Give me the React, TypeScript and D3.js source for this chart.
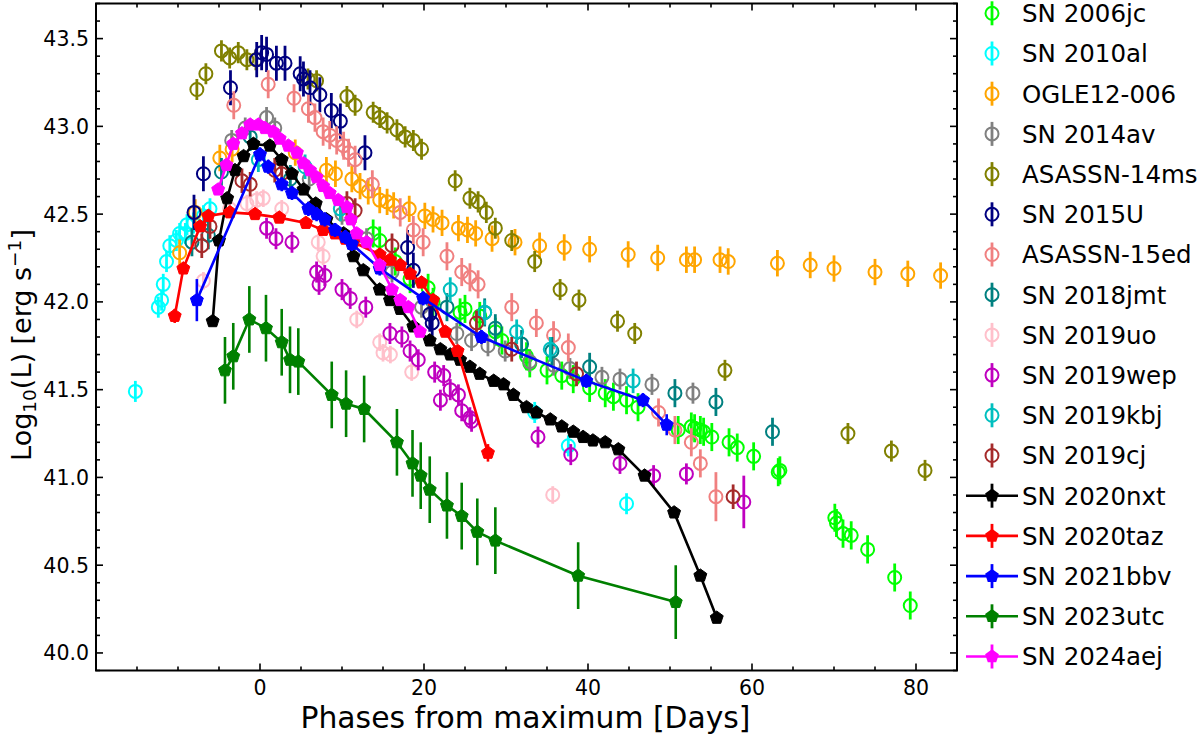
import * as d3 from 'd3';

// LAYOUT
const W = 1200;
const H = 737;
const PLOT = { LEFT: 96, RIGHT: 957, TOP: 3.5, BOTTOM: 670.5 };
const X_DOMAIN: [number, number] = [-20, 85];
const Y_DOMAIN: [number, number] = [39.9, 43.7];
const X_MAJOR = [0, 20, 40, 60, 80];
const Y_MAJOR = [40.0, 40.5, 41.0, 41.5, 42.0, 42.5, 43.0, 43.5];
const FONT = '"DejaVu Sans", sans-serif';

type Pt = [number, number, number?];

// DATA  [phase (days), log10 L, optional error]
const SN2006JC: Pt[] = [
  [13.8, 42.39], [14.6, 42.35], [16.5, 42.23], [18.3, 42.13], [20.5, 42.08], [21.1, 42.0],
  [24.4, 41.94], [25.0, 41.96], [26.8, 41.92], [28.7, 41.83], [29.5, 41.78], [32.5, 41.69],
  [32.9, 41.65], [35.0, 41.61], [36.8, 41.58], [38.2, 41.56], [40.2, 41.51], [42.1, 41.48],
  [43.1, 41.46], [44.7, 41.44], [46.1, 41.4], [51.0, 41.27], [52.6, 41.29], [53.0, 41.28],
  [53.7, 41.27], [54.1, 41.26], [55.1, 41.23], [57.2, 41.2], [58.2, 41.17], [60.2, 41.12],
  [63.2, 41.03], [63.4, 41.04], [70.1, 40.77], [70.3, 40.74], [71.1, 40.68], [72.1, 40.67],
  [74.1, 40.59], [77.4, 40.43], [79.3, 40.27],
];
const SN2010AL: Pt[] = [
  [-15.2, 41.49], [-12.4, 41.97], [-12.0, 42.01], [-11.8, 42.1], [-11.4, 42.23], [-11.0, 42.32],
  [-10.2, 42.35], [-9.8, 42.39], [-9.1, 42.39], [-8.9, 42.44], [-8.1, 42.45], [-6.9, 42.49],
  [-6.1, 42.53], [33.5, 41.37], [37.6, 41.18], [44.7, 40.85],
];
const OGLE12_006: Pt[] = [
  [-9.8, 42.28], [-7.9, 42.51], [-4.9, 42.82], [-3.4, 42.87], [4.3, 42.85], [8.1, 42.75],
  [9.2, 42.73], [11.2, 42.7], [12.2, 42.66], [13.2, 42.63], [14.6, 42.58], [15.5, 42.57],
  [16.3, 42.55], [18.2, 42.53], [20.1, 42.49], [21.1, 42.47], [22.2, 42.45], [24.2, 42.42],
  [25.3, 42.41], [26.3, 42.39], [28.3, 42.36], [31.1, 42.34], [34.1, 42.32], [37.1, 42.31],
  [40.2, 42.3], [44.9, 42.27], [48.5, 42.25], [52.0, 42.24], [53.0, 42.24], [56.1, 42.24],
  [57.1, 42.23], [63.1, 42.22], [67.1, 42.21], [70.0, 42.19], [75.0, 42.17], [79.0, 42.16],
  [83.0, 42.15],
];
const SN2014AV: Pt[] = [
  [-3.45, 42.92], [-1.8, 42.99], [0.8, 43.05], [1.8, 42.99], [6.0, 42.7], [10.0, 42.5],
  [13.0, 42.36], [16.1, 42.17], [19.7, 41.97], [24.0, 41.82], [25.8, 41.78], [27.8, 41.75],
  [29.9, 41.72], [32.9, 41.66], [35.8, 41.64], [37.8, 41.62], [41.7, 41.57], [43.9, 41.56],
  [47.8, 41.53], [52.8, 41.48],
];
const ASASSN14MS: Pt[] = [
  [-7.7, 43.21], [-6.6, 43.3], [-4.7, 43.43], [-3.7, 43.39], [-2.65, 43.42], [-1.6, 43.38],
  [-0.5, 43.38], [5.85, 43.27], [6.9, 43.26], [10.6, 43.17], [11.6, 43.12], [13.8, 43.08],
  [14.6, 43.05], [15.5, 43.02], [16.7, 42.98], [17.7, 42.94], [18.7, 42.92], [19.7, 42.87],
  [23.8, 42.69], [25.6, 42.59], [26.6, 42.57], [27.6, 42.51], [28.7, 42.42], [30.7, 42.35],
  [33.5, 42.23], [36.6, 42.07], [38.9, 42.01], [43.6, 41.89], [45.7, 41.82], [56.7, 41.61],
  [71.7, 41.25], [77.0, 41.15], [81.1, 41.04],
];
const SN2015U: Pt[] = [
  [-8.05, 42.51], [-6.9, 42.73], [-3.6, 43.22], [-0.4, 43.38], [0.2, 43.42], [0.8, 43.41],
  [2.0, 43.36], [3.05, 43.36], [4.9, 43.3], [5.3, 43.27], [6.1, 43.22], [7.3, 43.18],
  [8.7, 43.09], [9.8, 43.03], [12.8, 42.85], [18.0, 42.31], [18.7, 42.18], [20.7, 41.93],
  [21.0, 41.88],
];
const ASASSN15ED: Pt[] = [
  [-3.2, 43.12], [1.0, 43.24], [4.15, 43.16], [5.9, 43.1], [6.7, 43.05], [7.7, 42.97],
  [8.5, 42.95], [9.35, 42.92], [10.2, 42.89], [10.8, 42.85], [11.6, 42.81], [13.7, 42.67],
  [17.1, 42.51], [18.7, 42.41], [19.9, 42.34], [22.8, 42.26], [24.6, 42.17], [25.6, 42.14],
  [26.6, 42.1], [30.7, 41.97], [33.7, 41.88], [35.8, 41.81], [37.6, 41.74], [48.6, 41.37],
  [50.6, 41.27], [52.6, 41.2], [53.7, 41.08], [55.6, 40.89, 0.14],
];
const SN2018JMT: Pt[] = [
  [-8.3, 42.34], [-6.3, 42.38], [-4.7, 42.74], [-1.2, 42.94], [3.7, 42.7], [22.8, 41.97],
  [27.4, 41.94], [28.7, 41.85], [31.9, 41.76], [35.6, 41.72], [40.2, 41.63], [50.6, 41.48],
  [55.6, 41.43], [62.5, 41.26],
];
const SN2019UO: Pt[] = [
  [-6.9, 42.12], [-3.7, 42.53], [-1.6, 42.56], [-0.4, 42.58], [0.4, 42.59], [2.65, 42.53],
  [7.1, 42.34], [7.7, 42.26], [11.8, 41.9], [14.6, 41.77], [15.0, 41.71], [15.9, 41.7],
  [18.5, 41.6], [35.7, 40.9],
];
const SN2019WEP: Pt[] = [
  [0.8, 42.42], [1.95, 42.36], [3.9, 42.34], [6.9, 42.17], [7.9, 42.15], [7.2, 42.1],
  [10.0, 42.07], [11.0, 42.02], [12.9, 41.97], [15.85, 41.82], [17.3, 41.8], [18.3, 41.72],
  [19.3, 41.67], [21.3, 41.6], [22.4, 41.58], [22.0, 41.44], [23.2, 41.5], [24.2, 41.47],
  [24.6, 41.38], [25.6, 41.34], [25.8, 41.32], [33.9, 41.23], [37.9, 41.13], [43.9, 41.08],
  [48.0, 41.01], [52.0, 41.02], [59.0, 40.86, 0.15],
];
const SN2019KBJ: Pt[] = [
  [-0.2, 42.81], [5.5, 42.77], [9.8, 42.53], [23.2, 42.07], [27.4, 41.94], [31.3, 41.83],
  [35.4, 41.73], [45.5, 41.55],
];
const SN2019CJ: Pt[] = [
  [-7.1, 42.32], [-6.1, 42.43], [-2.2, 42.69], [-1.2, 42.67], [1.8, 42.75], [2.65, 42.73],
  [10.6, 42.56], [11.6, 42.52], [16.1, 42.32], [26.4, 41.88], [30.7, 41.73], [38.6, 41.59],
  [57.7, 40.89],
];
const SN2020NXT: Pt[] = [
  [-5.77, 41.89], [-5.0, 42.35], [-4.0, 42.59], [-3.05, 42.75], [-2.0, 42.83], [-0.8, 42.9],
  [1.2, 42.89], [2.65, 42.81], [3.9, 42.73], [5.3, 42.64], [6.8, 42.56], [8.1, 42.47],
  [10.2, 42.39], [11.4, 42.26], [12.6, 42.18], [14.6, 42.07], [15.85, 42.01], [17.1, 41.96],
  [18.7, 41.86], [20.7, 41.78], [22.0, 41.73], [23.2, 41.7], [24.4, 41.67], [25.6, 41.63],
  [26.8, 41.59], [28.5, 41.55], [29.7, 41.53], [30.9, 41.47], [32.5, 41.4], [33.7, 41.37],
  [35.4, 41.33], [36.8, 41.29], [38.2, 41.26], [39.4, 41.23], [40.6, 41.21], [42.1, 41.2],
  [43.7, 41.16], [46.9, 41.01], [50.5, 40.8], [53.7, 40.44], [55.7, 40.2],
];
const SN2020TAZ: Pt[] = [
  [-10.4, 41.92, 0.04], [-9.35, 42.19], [-7.3, 42.43], [-6.3, 42.49], [-3.66, 42.51],
  [-0.6, 42.5], [2.35, 42.48], [5.6, 42.45], [7.7, 42.41], [9.15, 42.39], [10.4, 42.36],
  [11.4, 42.34], [14.6, 42.27], [15.85, 42.24], [17.1, 42.21], [18.3, 42.16], [19.7, 42.11],
  [21.1, 42.01], [22.6, 41.83], [24.1, 41.72], [27.8, 41.14, 0.05],
];
const SN2021BBV: Pt[] = [
  [-7.7, 42.01, 0.12], [0.0, 42.84], [1.0, 42.77], [2.65, 42.67], [3.9, 42.62], [5.9, 42.53],
  [6.9, 42.5], [7.9, 42.47], [9.15, 42.41], [10.4, 42.37], [11.2, 42.33], [14.6, 42.19],
  [19.9, 42.02], [27.0, 41.8], [39.8, 41.55], [46.7, 41.44], [49.6, 41.3, 0.06],
];
const SN2023UTC: Pt[] = [
  [-4.27, 41.61], [-3.26, 41.69], [-1.3, 41.9], [0.73, 41.85], [2.65, 41.77], [3.66, 41.67],
  [4.67, 41.66], [8.75, 41.47], [10.5, 41.42], [12.7, 41.39], [16.7, 41.2], [18.6, 41.08],
  [19.6, 41.01], [20.7, 40.93], [22.8, 40.84], [24.6, 40.78], [26.5, 40.69], [28.7, 40.64],
  [38.8, 40.44], [50.7, 40.29, 0.21],
];
const SN2024AEJ: Pt[] = [
  [-5.1, 42.64], [-4.1, 42.78], [-3.26, 42.9], [-2.2, 42.96], [-1.2, 43.01], [-0.2, 43.01],
  [0.6, 42.99], [1.6, 42.97], [2.4, 42.93], [3.45, 42.89], [4.5, 42.85], [5.3, 42.79],
  [6.1, 42.75], [6.9, 42.71], [7.7, 42.66], [8.5, 42.62], [9.55, 42.58], [10.6, 42.54],
  [11.1, 42.47], [11.8, 42.39], [13.0, 42.34], [14.6, 42.21], [16.1, 42.07], [17.1, 42.01],
  [18.1, 41.97], [19.5, 41.83],
];

const NAMES = [
  'SN 2006jc', 'SN 2010al', 'OGLE12-006', 'SN 2014av', 'ASASSN-14ms', 'SN 2015U',
  'ASASSN-15ed', 'SN 2018jmt', 'SN 2019uo', 'SN 2019wep', 'SN 2019kbj', 'SN 2019cj',
  'SN 2020nxt', 'SN 2020taz', 'SN 2021bbv', 'SN 2023utc', 'SN 2024aej',
];
const POINTS = [
  SN2006JC, SN2010AL, OGLE12_006, SN2014AV, ASASSN14MS, SN2015U, ASASSN15ED, SN2018JMT,
  SN2019UO, SN2019WEP, SN2019KBJ, SN2019CJ, SN2020NXT, SN2020TAZ, SN2021BBV, SN2023UTC,
  SN2024AEJ,
];
const ERRORS = [
  0.08, 0.06, 0.075, 0.06, 0.06, 0.1, 0.08, 0.08, 0.05, 0.06, 0.07, 0.07,
  0.02, 0.025, 0.04, 0.19, 0.02,
];
const COLORS = [
  '#00ff00', '#00ffff', '#ffa500', '#808080', '#808000', '#000080', '#f08080', '#008080',
  '#ffc0cb', '#bf00bf', '#00bfbf', '#a52a2a', '#000000', '#ff0000', '#0000ff', '#008000',
  '#ff00ff',
];
const JOINED_NAMES = ['SN 2020nxt', 'SN 2020taz', 'SN 2021bbv', 'SN 2023utc', 'SN 2024aej'];

const SERIES = NAMES.map((name, i) => ({
  name,
  pts: POINTS[i],
  err: ERRORS[i],
  color: COLORS[i],
  joined: JOINED_NAMES.includes(name),
}));

const CIRCLE_R = 6.5;
const PENT_R = 6.8;

const pentagon = (r: number) =>
  d3.line().curve(d3.curveLinearClosed)(
    d3.range(5).map((k) => {
      const a = -Math.PI / 2 + (k * 2 * Math.PI) / 5;
      return [r * Math.cos(a), r * Math.sin(a)] as [number, number];
    })
  ) as string;

export default function App() {
  const x = d3.scaleLinear().domain(X_DOMAIN).range([PLOT.LEFT, PLOT.RIGHT]);
  const y = d3.scaleLinear().domain(Y_DOMAIN).range([PLOT.BOTTOM, PLOT.TOP]);
  const line = d3
    .line<Pt>()
    .x((d) => x(d[0]))
    .y((d) => y(d[1]));
  const pent = pentagon(PENT_R);
  const legPent = pentagon(7.2);

  const xMinor = d3.range(-20, 86, 5);
  const yMinor = d3.range(399, 438).map((v) => v / 10);

  return (
    <svg
      width={W}
      height={H}
      style={{ position: 'absolute', left: 0, top: 0, background: '#fff' }}
      fontFamily={FONT}
    >
      <defs>
        <clipPath id="plot-clip">
          <rect
            x={PLOT.LEFT}
            y={PLOT.TOP}
            width={PLOT.RIGHT - PLOT.LEFT}
            height={PLOT.BOTTOM - PLOT.TOP}
          />
        </clipPath>
      </defs>

      <g clipPath="url(#plot-clip)">
        {SERIES.map((s) => (
          <g key={s.name}>
            {s.joined && (
              <path d={line(s.pts) as string} fill="none" stroke={s.color} strokeWidth={2.6} />
            )}
            {s.pts.map((p, i) => {
              const e = p[2] ?? s.err;
              return (
                <line
                  key={'e' + i}
                  x1={x(p[0])}
                  x2={x(p[0])}
                  y1={y(p[1] - e)}
                  y2={y(p[1] + e)}
                  stroke={s.color}
                  strokeWidth={s.joined ? 2.6 : 2.8}
                />
              );
            })}
            {s.pts.map((p, i) =>
              s.joined ? (
                <path
                  key={'m' + i}
                  d={pent}
                  transform={`translate(${x(p[0])},${y(p[1])})`}
                  fill={s.color}
                  stroke={s.color}
                  strokeWidth={1}
                />
              ) : (
                <circle
                  key={'m' + i}
                  cx={x(p[0])}
                  cy={y(p[1])}
                  r={CIRCLE_R}
                  fill="none"
                  stroke={s.color}
                  strokeWidth={2}
                />
              )
            )}
          </g>
        ))}
      </g>

      {/* frame and ticks */}
      <rect
        x={PLOT.LEFT}
        y={PLOT.TOP}
        width={PLOT.RIGHT - PLOT.LEFT}
        height={PLOT.BOTTOM - PLOT.TOP}
        fill="none"
        stroke="#000"
        strokeWidth={2}
      />
      {xMinor.map((t) => {
        const len = X_MAJOR.includes(t) ? 7 : 4;
        return (
          <g key={'xt' + t} stroke="#000" strokeWidth={1.6}>
            <line x1={x(t)} x2={x(t)} y1={PLOT.BOTTOM} y2={PLOT.BOTTOM - len} />
            <line x1={x(t)} x2={x(t)} y1={PLOT.TOP} y2={PLOT.TOP + len} />
          </g>
        );
      })}
      {yMinor.map((t) => {
        const len = Y_MAJOR.some((m) => Math.abs(m - t) < 1e-6) ? 7 : 4;
        return (
          <g key={'yt' + t} stroke="#000" strokeWidth={1.6}>
            <line x1={PLOT.LEFT} x2={PLOT.LEFT + len} y1={y(t)} y2={y(t)} />
            <line x1={PLOT.RIGHT} x2={PLOT.RIGHT - len} y1={y(t)} y2={y(t)} />
          </g>
        );
      })}
      {X_MAJOR.map((t) => (
        <text key={'xl' + t} x={x(t)} y={695} textAnchor="middle" fontSize={20.5}>
          {t}
        </text>
      ))}
      {Y_MAJOR.map((t) => (
        <text key={'yl' + t} x={89} y={y(t)} dy="0.36em" textAnchor="end" fontSize={20.5}>
          {d3.format('.1f')(t)}
        </text>
      ))}

      <text x={(PLOT.LEFT + PLOT.RIGHT) / 2 - 1} y={728} textAnchor="middle" fontSize={29.8}>
        Phases from maximum [Days]
      </text>
      <text
        transform={`translate(31,${(PLOT.TOP + PLOT.BOTTOM) / 2 + 8}) rotate(-90)`}
        textAnchor="middle"
        fontSize={27}
      >
        Log
        <tspan fontSize={18.5} dy={5}>
          10
        </tspan>
        <tspan dy={-5}>(L) [erg s</tspan>
        <tspan fontSize={18.5} dy={-10}>
          −1
        </tspan>
        <tspan dy={10}>]</tspan>
      </text>

      {/* legend */}
      {SERIES.map((s, i) => {
        const ly = 13.3 + i * 40.2;
        return (
          <g key={'lg' + s.name}>
            {s.joined && (
              <line x1={966} x2={1018} y1={ly} y2={ly} stroke={s.color} strokeWidth={2.6} />
            )}
            <line x1={992} x2={992} y1={ly - 12} y2={ly + 12} stroke={s.color} strokeWidth={2.8} />
            {s.joined ? (
              <path d={legPent} transform={`translate(992,${ly})`} fill={s.color} />
            ) : (
              <circle cx={992} cy={ly} r={CIRCLE_R} fill="none" stroke={s.color} strokeWidth={2} />
            )}
            <text x={1022} y={ly} dy="0.36em" fontSize={24.5}>
              {s.name}
            </text>
          </g>
        );
      })}
    </svg>
  );
}
